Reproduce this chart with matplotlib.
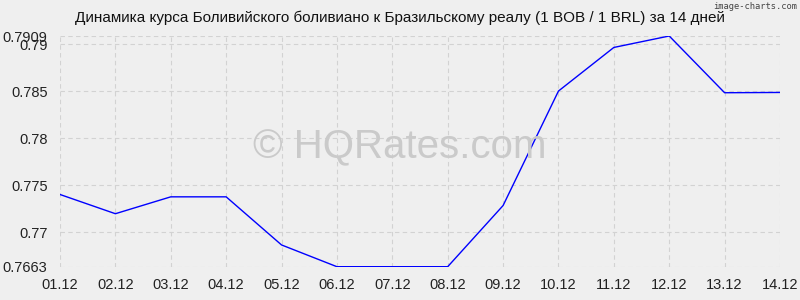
import matplotlib
matplotlib.use("Agg")
import matplotlib.pyplot as plt

dates = ["01.12", "02.12", "03.12", "04.12", "05.12", "06.12", "07.12",
         "08.12", "09.12", "10.12", "11.12", "12.12", "13.12", "14.12"]
rates = [0.7740, 0.77195, 0.77375, 0.77375, 0.76862, 0.7663, 0.7663,
         0.7663, 0.77282, 0.78503, 0.78968, 0.7909, 0.78485, 0.78488]
y_ticks = [0.7663, 0.77, 0.775, 0.78, 0.785, 0.79, 0.7909]
y_labels = ["0.7663", "0.77", "0.775", "0.78", "0.785", "0.79", "0.7909"]

plt.rcParams['font.family'] = ['Liberation Sans', 'DejaVu Sans']
bg = '#efefef'

fig = plt.figure(figsize=(8, 3), dpi=100, facecolor=bg)
ax = fig.add_axes([0.075, 0.111, 0.9, 0.769], facecolor=bg)

x = list(range(len(dates)))
ax.plot(x, rates, color='#0000ff', linewidth=1)

ax.set_xlim(0, len(dates) - 1)
ax.set_ylim(y_ticks[0], y_ticks[-1])
ax.set_xticks(x)
ax.set_xticklabels(dates)
ax.set_yticks(y_ticks)
ax.set_yticklabels(y_labels)
ax.tick_params(length=0, labelsize=10.5, colors='#222222')
ax.tick_params(axis='y', pad=9)
ax.tick_params(axis='x', pad=8)
for s in ax.spines.values():
    s.set_visible(False)
ax.grid(True, color='#d2d2d2', linestyle=(0, (4, 3)), linewidth=0.8)
ax.set_axisbelow(True)

fig.text(0.5, 0.94, "Динамика курса Боливийского боливиано к Бразильскому реалу (1 BOB / 1 BRL) за 14 дней",
         ha='center', va='center', fontsize=11, color='#111111')
fig.text(0.996, 0.977, "image-charts.com", ha='right', va='center', fontsize=6.3,
         color='#444444', family='DejaVu Sans Mono')
fig.text(0.5, 0.51, "© HQRates.com", ha='center', va='center', fontsize=29,
         color='#cacaca', zorder=0)

fig.savefig("out.png", dpi=100, facecolor=bg)
